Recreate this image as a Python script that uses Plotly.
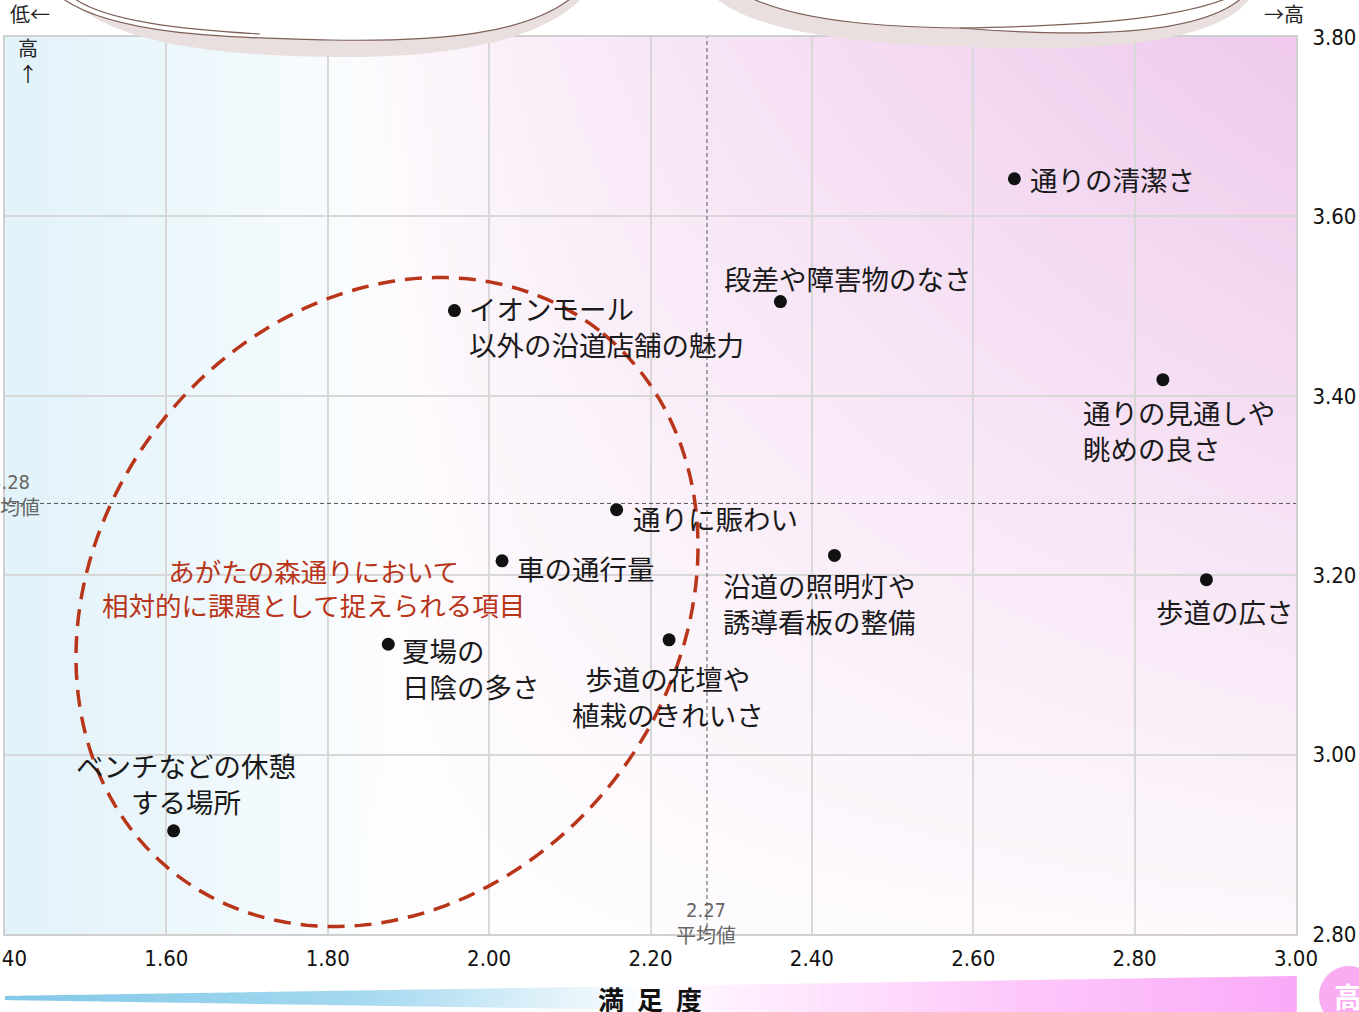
import base64
import struct
import zlib

import numpy as np
import plotly.graph_objects as go

# ---- data -----------------------------------------------------------------
items = [
    "通りの清潔さ",
    "段差や障害物のなさ",
    "イオンモール<br>以外の沿道店舗の魅力",
    "通りの見通しや<br>眺めの良さ",
    "通りに賑わい",
    "車の通行量",
    "沿道の照明灯や<br>誘導看板の整備",
    "歩道の広さ",
    "夏場の<br>日陰の多さ",
    "歩道の花壇や<br>植栽のきれいさ",
    "ベンチなどの休憩<br>する場所",
]
satisfaction = [2.651, 2.361, 1.957, 2.835, 2.158, 2.016, 2.428, 2.889, 1.875, 2.223, 1.609]
importance = [3.642, 3.505, 3.495, 3.418, 3.273, 3.216, 3.222, 3.195, 3.123, 3.128, 2.915]

avg_satisfaction = 2.27
avg_importance = 3.28

x_ticks = [1.40, 1.60, 1.80, 2.00, 2.20, 2.40, 2.60, 2.80, 3.00]
y_ticks = [2.80, 3.00, 3.20, 3.40, 3.60, 3.80]

# label placement (pixel offsets from each point, anchor, alignment)
label_layout = [
    (14, 0, "left", "left"),
    (68, 24, "center", "center"),
    (13, -15, "left", "left"),
    (-82, -50, "left", "left"),
    (14, -8, "left", "left"),
    (13, -7, "left", "left"),
    (-113, -48, "left", "left"),
    (19, -31, "center", "center"),
    (12, -24, "left", "left"),
    (-1, -56, "center", "center"),
    (12, 48, "center", "center"),
]

# ---- geometry helpers -----------------------------------------------------
W, H = 1359, 1012
ML, MR, MT, MB = 5, 63, 37, 78
PW, PH = W - ML - MR, H - MT - MB
X0, X1 = 1.40, 3.00
Y0, Y1 = 2.80, 3.80


def px(x):
    return (x - ML) / PW


def py(y):
    return (H - MB - y) / PH


CJK = "Noto Sans CJK JP, Noto Sans, sans-serif"
NUM = "DejaVu Sans Condensed, Liberation Sans Narrow, Noto Sans CJK JP, sans-serif"


# ---- background gradient as an inline PNG --------------------------------
def png_uri(rgb):
    h, w, _ = rgb.shape
    raw = b"".join(b"\x00" + rgb[i].tobytes() for i in range(h))

    def chunk(tag, data):
        return (struct.pack(">I", len(data)) + tag + data
                + struct.pack(">I", zlib.crc32(tag + data) & 0xFFFFFFFF))

    png = (b"\x89PNG\r\n\x1a\n"
           + chunk(b"IHDR", struct.pack(">IIBBBBB", w, h, 8, 2, 0, 0, 0))
           + chunk(b"IDAT", zlib.compress(raw, 9))
           + chunk(b"IEND", b""))
    return "data:image/png;base64," + base64.b64encode(png).decode()


gw, gh = 400, 220
u = np.linspace(0, 1, gw)[None, :]
v = np.linspace(1, 0, gh)[:, None]
white = np.array([255.0, 255.0, 255.0])
blue = np.array([226.0, 243.0, 250.0])
pink = np.array([239.0, 202.0, 236.0])
wb = np.clip(1 - u / 0.30, 0, 1) ** 0.8 * np.ones_like(v)
su = np.clip((u - 0.27) / 0.73, 0, 1) ** 0.7
wp = su * (0.12 + 0.88 * v)
img = (white[None, None, :]
       + wb[..., None] * (blue - white)
       + wp[..., None] * (pink - white))
bg_uri = png_uri(np.clip(img, 0, 255).astype(np.uint8))

# ---- figure ---------------------------------------------------------------
fig = go.Figure()

fig.add_trace(go.Scatter(
    x=satisfaction, y=importance, mode="markers",
    marker=dict(size=13, color="#111111"),
    hoverinfo="skip", showlegend=False,
))

shapes = []

# average lines
shapes.append(dict(type="line", xref="x", yref="paper", x0=avg_satisfaction, x1=avg_satisfaction,
                   y0=0, y1=1, line=dict(color="#555555", width=1, dash="4px,3px"), layer="above"))
shapes.append(dict(type="line", xref="paper", yref="y", x0=0, x1=1, y0=avg_importance,
                   y1=avg_importance, line=dict(color="#555555", width=1, dash="4px,3px"), layer="above"))

# dashed ellipse marking the weak-point group
cx_pix, cy_pix = 387, 602
a_pix, b_pix, theta = 344.6, 288.6, np.deg2rad(52)
t = np.linspace(0, 2 * np.pi, 181)
ex = a_pix * np.cos(t) * np.cos(theta) - b_pix * np.sin(t) * np.sin(theta)
ey = a_pix * np.cos(t) * np.sin(theta) + b_pix * np.sin(t) * np.cos(theta)
pts = [(px(cx_pix + dx), py(cy_pix - dy)) for dx, dy in zip(ex, ey)]
ell = "M " + " L ".join(f"{a:.5f},{b:.5f}" for a, b in pts) + " Z"
shapes.append(dict(type="path", xref="paper", yref="paper", path=ell,
                   line=dict(color="#b8351a", width=3.5, dash="17px,10px"), layer="above"))


def pth(cmds):
    out = []
    for c in cmds:
        if isinstance(c, str):
            out.append(c)
        else:
            out.append(f"{px(c[0]):.5f},{py(c[1]):.5f}")
    return " ".join(out)


# speech-bubble clouds along the top edge
shadow = "rgb(233,223,223)"
outline = "rgb(125,95,85)"
shapes.append(dict(type="path", xref="paper", yref="paper", fillcolor=shadow, line=dict(width=0),
                   path=pth(["M", (68, -5), "C", (110, 50), (250, 56), (340, 57),
                             "C", (450, 58), (545, 40), (585, -5), "Z"]), layer="above"))
shapes.append(dict(type="path", xref="paper", yref="paper", fillcolor="white",
                   line=dict(color=outline, width=1.2),
                   path=pth(["M", (58, -5), "C", (110, 38), (250, 38), (330, 40),
                             "C", (440, 42), (530, 34), (575, -5), "Z"]), layer="above"))
shapes.append(dict(type="path", xref="paper", yref="paper", line=dict(color=outline, width=1.2),
                   path=pth(["M", (70, -5), "C", (100, 22), (190, 30), (260, 34)]), layer="above"))
shapes.append(dict(type="path", xref="paper", yref="paper", fillcolor=shadow, line=dict(width=0),
                   path=pth(["M", (712, -5), "C", (760, 40), (900, 46), (1010, 48),
                             "C", (1150, 50), (1230, 32), (1252, -5), "Z"]), layer="above"))
shapes.append(dict(type="path", xref="paper", yref="paper", fillcolor="white",
                   line=dict(color=outline, width=1.2),
                   path=pth(["M", (745, -5), "C", (800, 24), (900, 27), (960, 28),
                             "C", (1060, 36), (1200, 40), (1245, -5), "Z"]), layer="above"))
shapes.append(dict(type="path", xref="paper", yref="paper", line=dict(color=outline, width=1.2),
                   path=pth(["M", (960, 28), "C", (1080, 26), (1180, 20), (1235, -5)]), layer="above"))

# satisfaction gradient wedge under the x axis
stops = [(0.0, (130, 200, 232)), (0.28, (165, 217, 240)), (0.45, (235, 246, 251)),
         (0.50, (255, 255, 255)), (0.56, (255, 240, 255)), (0.78, (253, 200, 250)),
         (1.0, (250, 170, 248))]


def grad(f):
    for (f0, c0), (f1, c1) in zip(stops[:-1], stops[1:]):
        if f0 <= f <= f1:
            k = (f - f0) / (f1 - f0)
            return "rgb(%d,%d,%d)" % tuple(round(a + k * (b - a)) for a, b in zip(c0, c1))
    return "rgb(%d,%d,%d)" % stops[-1][1]


xa, xb, n = 5, 1296, 160
for i in range(n):
    xl = xa + (xb - xa) * i / n
    xr = xa + (xb - xa) * (i + 1) / n + 0.8
    top_l = 996 - 20 * (xl - xa) / (xb - xa)
    top_r = 996 - 20 * (xr - xa) / (xb - xa)
    bot_l = 1000 + 20 * (xl - xa) / (xb - xa)
    bot_r = 1000 + 20 * (xr - xa) / (xb - xa)
    shapes.append(dict(type="path", xref="paper", yref="paper", fillcolor=grad((i + 0.5) / n),
                       line=dict(width=0), layer="above",
                       path=pth(["M", (xl, top_l), "L", (xr, top_r), "L", (xr, bot_r),
                                 "L", (xl, bot_l), "Z"])))

# "high" badge at the right end of the wedge
shapes.append(dict(type="circle", xref="paper", yref="paper", x0=px(1319), x1=px(1379),
                   y0=py(1026), y1=py(966), fillcolor="rgb(250,172,243)", line=dict(width=0),
                   layer="above"))

annotations = []
for name, xv, yv, (dx, dy, anc, al) in zip(items, satisfaction, importance, label_layout):
    annotations.append(dict(x=xv, y=yv, xref="x", yref="y", text=name, showarrow=False,
                            xanchor=anc, yanchor="middle", align=al, xshift=dx, yshift=dy,
                            font=dict(family=CJK, size=27.5, color="#1a1a1a")))


def note(xp, yp, text, size, color, family=CJK, align="center"):
    return dict(x=px(xp), y=py(yp), xref="paper", yref="paper", showarrow=False, text=text,
                xanchor="center", yanchor="middle", align=align,
                font=dict(family=family, size=size, color=color))


annotations += [
    note(313, 587, "あがたの森通りにおいて<br>相対的に課題として捉えられる項目", 26.5, "#b8351a"),
    note(706, 923, f"{avg_satisfaction:.2f}<br>平均値", 20, "#666666", family=NUM),
    note(10, 495, f"{avg_importance:.2f}<br>平均値", 20, "#666666", family=NUM),
    note(30, 13, "低←", 20, "#222222"),
    note(1284, 13, "→高", 20, "#222222"),
    note(28, 61, "高<br>↑", 20, "#222222"),
    note(650, 998, "<b>満\u2002足\u2002度</b>", 26, "#111111"),
    note(1348, 996, "<b>高</b>", 28, "white"),
]

fig.update_layout(
    width=W, height=H,
    margin=dict(l=ML, r=MR, t=MT, b=MB, autoexpand=False),
    paper_bgcolor="white", plot_bgcolor="white",
    showlegend=False,
    shapes=shapes,
    annotations=annotations,
    images=[dict(source=bg_uri, xref="x", yref="y", x=X0, y=Y1, sizex=X1 - X0, sizey=Y1 - Y0,
                 xanchor="left", yanchor="top", sizing="stretch", layer="below")],
    xaxis=dict(range=[X0, X1], tickvals=x_ticks, ticktext=[f"{v:.2f}" for v in x_ticks],
               showgrid=True, gridcolor="#d8d8d8", gridwidth=2, zeroline=False,
               showline=True, mirror=True, linecolor="#d0d0d0", linewidth=2,
               ticks="", ticklabelstandoff=4, ticklabeloverflow="allow", automargin=False,
               tickfont=dict(family=NUM, size=22, color="#111111")),
    yaxis=dict(range=[Y0, Y1], tickvals=y_ticks, ticktext=[f"{v:.2f}" for v in y_ticks],
               side="right", showgrid=True, gridcolor="#d8d8d8", gridwidth=2, zeroline=False,
               showline=True, mirror=True, linecolor="#d0d0d0", linewidth=2,
               ticks="", ticklabelstandoff=10, ticklabeloverflow="allow", automargin=False,
               tickfont=dict(family=NUM, size=22, color="#111111")),
)

fig.write_html("out.html")
